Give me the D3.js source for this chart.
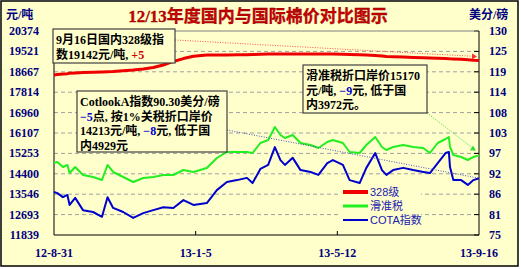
<!DOCTYPE html>
<html><head><meta charset="utf-8">
<script src="https://cdn.jsdelivr.net/npm/d3@7"></script>
<style>
html,body{margin:0;padding:0;background:#fff;}
svg{display:block;}
text{font-family:"Liberation Serif","Noto Sans CJK SC",serif;}
</style></head>
<body>
<svg id="c" width="521" height="269"></svg>
<script>
// ---------------- DATA ----------------
const dates = ["2012-08-31","2012-09-03","2012-09-08","2012-09-12","2012-09-14","2012-09-19","2012-09-26","2012-10-05","2012-10-13","2012-10-18","2012-10-23","2012-11-01","2012-11-10","2012-11-19","2012-11-28","2012-12-07","2012-12-16","2012-12-25","2013-01-03","2013-01-15","2013-01-24","2013-02-02","2013-02-11","2013-02-20","2013-02-25","2013-03-04","2013-03-11","2013-03-17","2013-03-22","2013-03-26","2013-04-02","2013-04-09","2013-04-18","2013-04-25","2013-05-03","2013-05-08","2013-05-17","2013-05-23","2013-06-01","2013-06-07","2013-06-15","2013-06-21","2013-06-25","2013-07-01","2013-07-10","2013-07-19","2013-07-28","2013-08-03","2013-08-10","2013-08-17","2013-08-20","2013-08-21","2013-08-24","2013-08-31","2013-09-06","2013-09-11","2013-09-16"];
// 328级 (元/吨)
const grade328 = [18533,18550,18570,18590,18610,18620,18635,18650,18660,18670,18680,18710,18740,18780,18850,18950,19100,19220,19320,19370,19370,19375,19380,19385,19390,19400,19410,19410,19412,19412,19415,19412,19410,19412,19410,19410,19400,19390,19380,19370,19350,19330,19310,19300,19285,19270,19255,19245,19235,19220,19215,19210,19205,19195,19175,19155,19142];
// 滑准税 (元/吨)
const slidingTax = [14851,14893,14684,14768,14433,14684,14349,14266,14140,14768,14475,14266,14057,14224,14266,14349,14349,14559,14475,14642,15061,15312,15312,15312,15270,15688,15814,16358,16023,15897,16023,15688,15605,15479,15730,15814,15688,15312,15270,15605,15939,15521,15395,15521,15605,15521,15479,15270,15688,15856,15939,15521,15186,15103,14977,15103,15170];
// COTA指数 (美分/磅)
const cotA = [86.6,86.3,85.2,85.8,83.1,85.0,81.7,81.2,79.9,85.2,82.3,81.2,79.6,80.9,81.7,82.5,82.3,84.4,83.1,83.6,87.1,89.3,89.8,90.4,89.0,92.8,93.9,98.7,95.2,93.9,95.8,92.5,92.0,91.2,94.4,95.2,93.9,89.8,89.0,93.1,97.1,92.5,91.2,92.5,93.1,92.5,92.0,91.7,94.4,97.1,97.4,93.3,89.8,89.8,88.5,89.8,90.3];

const seriesNames = ["328级","滑准税","COTA指数"];
const leftTickLabels = ["11839","12693","13546","14400","15253","16107","16960","17814","18667","19521","20374"];
const rightTickLabels = ["75","81","86","92","97","103","108","114","119","125","130"];
const xTickDates = ["2012-08-31","2013-01-05","2013-05-12","2013-09-16"];
const xTickLabels = ["12-8-31","13-1-5","13-5-12","13-9-16"];
const title = "12/13年度国内与国际棉价对比图示";

// ---------------- CHART ----------------
const svg = d3.select("#c");
const L=54,R=479,T=31,B=235;
const bg="#FFFFCC", navy="#000080";
const parse = d3.timeParse("%Y-%m-%d");

svg.append("rect").attr("x",1).attr("y",1).attr("width",517).attr("height",265)
  .attr("fill",bg).attr("stroke","#000").attr("stroke-width",1.5);

const x = d3.scaleTime().domain([parse(xTickDates[0]),parse(xTickDates[3])]).range([L,R]);
const yL = d3.scaleLinear().domain([+leftTickLabels[0],+leftTickLabels[10]]).range([B,T]);
const yR = d3.scaleLinear().domain([+rightTickLabels[0],+rightTickLabels[10]]).range([B,T]);

const lStep=(yL.domain()[1]-yL.domain()[0])/10;
const rStep=(yR.domain()[1]-yR.domain()[0])/10;

// gridlines
const g = svg.append("g");
leftTickLabels.forEach((lab,i)=>{
  const yy = yL(yL.domain()[0]+i*lStep);
  if(i>0 && i<10) g.append("line").attr("x1",L).attr("x2",R).attr("y1",yy).attr("y2",yy)
    .attr("stroke","#a0a0a0").attr("stroke-dasharray","4,3").attr("stroke-width",1);
  g.append("text").attr("x",39).attr("y",yy+4).attr("text-anchor","end")
    .attr("font-size",12).attr("font-weight","bold").attr("fill",navy).text(lab);
});
rightTickLabels.forEach((lab,i)=>{
  const yy = yR(yR.domain()[0]+i*rStep);
  g.append("line").attr("x1",R-5).attr("x2",R).attr("y1",yy).attr("y2",yy).attr("stroke","#000");
  g.append("text").attr("x",R+10).attr("y",yy+4).attr("text-anchor","start")
    .attr("font-size",12).attr("font-weight","bold").attr("fill",navy).text(lab);
});
// frame
g.append("line").attr("x1",L).attr("x2",R).attr("y1",T).attr("y2",T).attr("stroke","#808080");
g.append("line").attr("x1",L).attr("x2",L).attr("y1",T).attr("y2",B).attr("stroke","#000");
g.append("line").attr("x1",L).attr("x2",R).attr("y1",B).attr("y2",B).attr("stroke","#000");
g.append("line").attr("x1",R).attr("x2",R).attr("y1",T).attr("y2",B).attr("stroke","#000");

// x ticks
xTickDates.forEach((d,i)=>{
  const xx=x(parse(d));
  if(i>0&&i<3) g.append("line").attr("x1",xx).attr("x2",xx).attr("y1",B-4).attr("y2",B).attr("stroke","#000");
  g.append("text").attr("x",xx).attr("y",257).attr("text-anchor","middle")
    .attr("font-size",12).attr("font-weight","bold").attr("fill",navy).text(xTickLabels[i]);
});

// units & title
svg.append("text").attr("x",6).attr("y",19).attr("font-size",12).attr("font-weight","bold").attr("fill",navy).text("元/吨");
svg.append("text").attr("x",469).attr("y",19).attr("font-size",12).attr("font-weight","bold").attr("fill",navy).text("美分/磅");
svg.append("text").attr("x",258).attr("y",22).attr("text-anchor","middle").attr("font-size",17)
  .attr("font-weight","bold").attr("fill","#CC0000").attr("stroke","#800000").attr("stroke-width",0.3).text(title);

// series
const pts = dates.map(parse);
const lineL = d3.line().x((d,i)=>x(pts[i])).y(d=>yL(d));
const lineR = d3.line().x((d,i)=>x(pts[i])).y(d=>yR(d));
svg.append("path").attr("d",lineL(slidingTax)).attr("fill","none").attr("stroke","#22EE22").attr("stroke-width",2).attr("stroke-linejoin","round");
svg.append("path").attr("d",lineR(cotA)).attr("fill","none").attr("stroke","#0000CC").attr("stroke-width",2).attr("stroke-linejoin","round");
svg.append("path").attr("d",lineL(grade328)).attr("fill","none").attr("stroke","#EE0000").attr("stroke-width",3).attr("stroke-linejoin","round");

// leader lines
const n=dates.length-1;
const endRed=[x(pts[n])-3,yL(grade328[n])-4];
const endGreen=[x(pts[n])-6,yL(slidingTax[n])-7];
const endBlue=[x(pts[n]),yR(cotA[n])];
svg.append("line").attr("x1",175).attr("y1",40).attr("x2",endRed[0]).attr("y2",endRed[1])
  .attr("stroke","#FF5050").attr("stroke-dasharray","1,1.5").attr("stroke-width",1);
svg.append("path").attr("d",`M${endRed[0]+1},${endRed[1]} l-5,-3 l0,6 z`).attr("fill","#FF3030");
svg.append("line").attr("x1",427).attr("y1",113).attr("x2",endGreen[0]).attr("y2",endGreen[1])
  .attr("stroke","#33DD33").attr("stroke-dasharray","1,1.5").attr("stroke-width",1);
svg.append("path").attr("d",`M${endGreen[0]},${endGreen[1]-3} l3,5 l-6,0 z`).attr("fill","#33DD33");
svg.append("line").attr("x1",222).attr("y1",129).attr("x2",endBlue[0]).attr("y2",endBlue[1])
  .attr("stroke","#5050C0").attr("stroke-dasharray","1,1.5").attr("stroke-width",1);

// annotation boxes
function box(x0,y0,w,h,lines){
  svg.append("rect").attr("x",x0).attr("y",y0).attr("width",w).attr("height",h)
    .attr("fill",bg).attr("stroke","#404040").attr("stroke-width",1.2);
  lines.forEach((parts,i)=>{
    const t=svg.append("text").attr("x",x0+3).attr("y",y0+15+i*14.5).attr("font-size",12).attr("font-weight","bold").attr("fill","#000");
    parts.forEach(p=>{ t.append("tspan").attr("fill",p[1]||"#000").text(p[0]); });
  });
}
box(53,29,122,34,[[["9月16日国内328级指"]],[["数19142元/吨, "],["+5","#CC0000"]]]);
box(77,91,150,61,[[["CotlookA指数90.30美分/磅"]],[["−5","#0000CC"],["点, 按1%关税折口岸价"]],[["14213元/吨,  "],["−8","#0000CC"],["元, 低于国"]],[["内4929元"]]]);
box(303,65,124,48,[[["滑准税折口岸价15170"]],[["元/吨, "],["−9","#0000CC"],["元, 低于国"]],[["内3972元。"]]]);

// legend
const lg=svg.append("g");
lg.append("rect").attr("x",341).attr("y",185).attr("width",80).attr("height",42).attr("fill",bg);
const lc=["#EE0000","#22EE22","#0000CC"], lw=[4,3,2];
seriesNames.forEach((s,i)=>{
  const yy=192+i*14;
  lg.append("line").attr("x1",343).attr("x2",368).attr("y1",yy).attr("y2",yy).attr("stroke",lc[i]).attr("stroke-width",lw[i]);
  lg.append("text").attr("x",370).attr("y",yy+4).attr("font-size",11).attr("fill","#2020B0")
    .style("font-family","'Liberation Sans','Noto Sans CJK SC',sans-serif").text(s);
});
</script>
</body></html>
